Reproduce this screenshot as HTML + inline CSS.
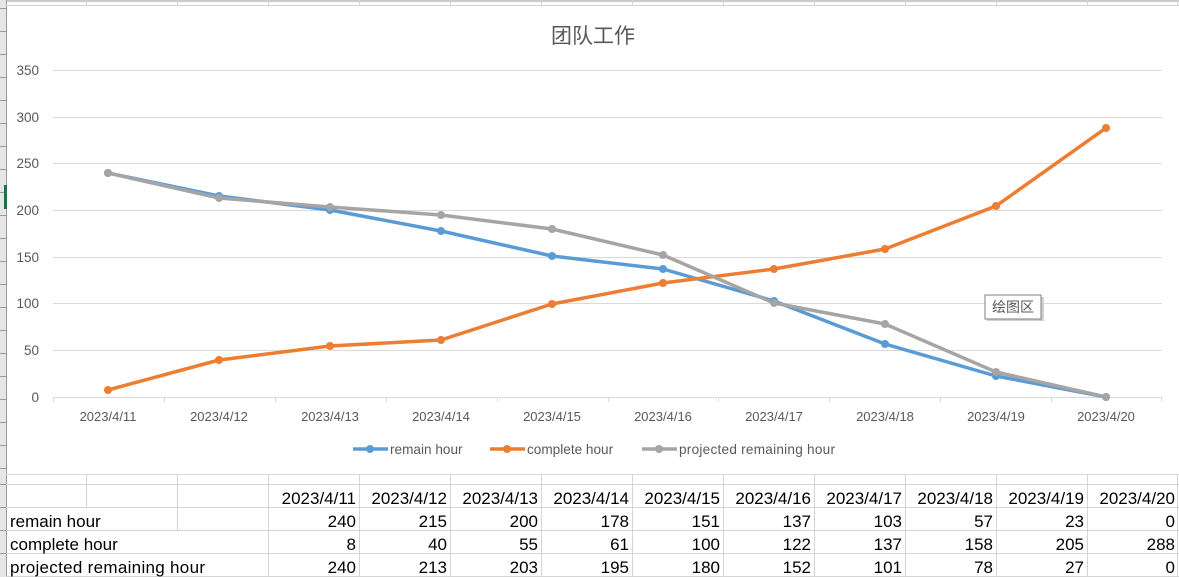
<!DOCTYPE html>
<html><head><meta charset="utf-8"><style>
html,body{margin:0;padding:0;background:#fff;}
svg{display:block;}
text{font-family:"Liberation Sans","Noto Sans CJK SC",sans-serif;}
</style></head><body>
<svg width="1179" height="577" viewBox="0 0 1179 577" xmlns="http://www.w3.org/2000/svg">
<rect width="1179" height="577" fill="#fff"/>
<rect x="0" y="0" width="6" height="577" fill="#e6e6e6"/>
<line x1="6.5" y1="0" x2="6.5" y2="577" stroke="#9a9a9a"/>
<g stroke="#9a9a9a" stroke-width="1">
<line x1="0" y1="8.5" x2="6" y2="8.5"/><line x1="0" y1="31.5" x2="6" y2="31.5"/><line x1="0" y1="54.5" x2="6" y2="54.5"/><line x1="0" y1="77.5" x2="6" y2="77.5"/><line x1="0" y1="100.5" x2="6" y2="100.5"/><line x1="0" y1="123.5" x2="6" y2="123.5"/><line x1="0" y1="146.5" x2="6" y2="146.5"/><line x1="0" y1="169.5" x2="6" y2="169.5"/><line x1="0" y1="192.5" x2="6" y2="192.5"/><line x1="0" y1="215.5" x2="6" y2="215.5"/><line x1="0" y1="238.5" x2="6" y2="238.5"/><line x1="0" y1="261.5" x2="6" y2="261.5"/><line x1="0" y1="284.5" x2="6" y2="284.5"/><line x1="0" y1="307.5" x2="6" y2="307.5"/><line x1="0" y1="330.5" x2="6" y2="330.5"/><line x1="0" y1="353.5" x2="6" y2="353.5"/><line x1="0" y1="376.5" x2="6" y2="376.5"/><line x1="0" y1="399.5" x2="6" y2="399.5"/><line x1="0" y1="422.5" x2="6" y2="422.5"/><line x1="0" y1="445.5" x2="6" y2="445.5"/><line x1="0" y1="468.5" x2="6" y2="468.5"/><line x1="0" y1="484.5" x2="6" y2="484.5"/><line x1="0" y1="507.5" x2="6" y2="507.5"/><line x1="0" y1="530.5" x2="6" y2="530.5"/><line x1="0" y1="553.5" x2="6" y2="553.5"/>
</g>
<rect x="4" y="185" width="3" height="24" fill="#217346"/>
<line x1="6" y1="1" x2="1179" y2="1" stroke="#9a9a9a"/>
<line x1="6" y1="5.5" x2="1179" y2="5.5" stroke="#d4d4d4"/>
<g stroke="#d4d4d4">
<line x1="86.5" y1="0" x2="86.5" y2="6"/><line x1="177.5" y1="0" x2="177.5" y2="6"/><line x1="268.5" y1="0" x2="268.5" y2="6"/><line x1="359.5" y1="0" x2="359.5" y2="6"/><line x1="450.5" y1="0" x2="450.5" y2="6"/><line x1="541.5" y1="0" x2="541.5" y2="6"/><line x1="632.5" y1="0" x2="632.5" y2="6"/><line x1="723.5" y1="0" x2="723.5" y2="6"/><line x1="814.5" y1="0" x2="814.5" y2="6"/><line x1="905.5" y1="0" x2="905.5" y2="6"/><line x1="996.5" y1="0" x2="996.5" y2="6"/><line x1="1087.5" y1="0" x2="1087.5" y2="6"/><line x1="1177.5" y1="0" x2="1177.5" y2="6"/>
</g>
<text x="593" y="43" font-size="21" fill="#595959" text-anchor="middle">团队工作</text>
<g stroke="#d9d9d9" stroke-width="1">
<line x1="53" y1="70.5" x2="1162" y2="70.5"/><line x1="53" y1="117.5" x2="1162" y2="117.5"/><line x1="53" y1="163.5" x2="1162" y2="163.5"/><line x1="53" y1="210.5" x2="1162" y2="210.5"/><line x1="53" y1="257.5" x2="1162" y2="257.5"/><line x1="53" y1="303.5" x2="1162" y2="303.5"/><line x1="53" y1="350.5" x2="1162" y2="350.5"/><line x1="53" y1="397.5" x2="1162" y2="397.5"/>
<line x1="53.5" y1="397" x2="53.5" y2="402"/><line x1="164.5" y1="397" x2="164.5" y2="402"/><line x1="275.5" y1="397" x2="275.5" y2="402"/><line x1="386.5" y1="397" x2="386.5" y2="402"/><line x1="497.5" y1="397" x2="497.5" y2="402"/><line x1="608.5" y1="397" x2="608.5" y2="402"/><line x1="718.5" y1="397" x2="718.5" y2="402"/><line x1="829.5" y1="397" x2="829.5" y2="402"/><line x1="940.5" y1="397" x2="940.5" y2="402"/><line x1="1051.5" y1="397" x2="1051.5" y2="402"/><line x1="1161.5" y1="397" x2="1161.5" y2="402"/>
</g>
<g font-size="13.5" fill="#595959" text-anchor="end">
<text x="39" y="75">350</text><text x="39" y="122">300</text><text x="39" y="168">250</text><text x="39" y="215">200</text><text x="39" y="262">150</text><text x="39" y="308">100</text><text x="39" y="355">50</text><text x="39" y="402">0</text>
</g>
<g font-size="13" fill="#595959" text-anchor="middle">
<text x="108" y="421">2023/4/11</text><text x="219" y="421">2023/4/12</text><text x="330" y="421">2023/4/13</text><text x="441" y="421">2023/4/14</text><text x="552" y="421">2023/4/15</text><text x="663" y="421">2023/4/16</text><text x="774" y="421">2023/4/17</text><text x="885" y="421">2023/4/18</text><text x="996" y="421">2023/4/19</text><text x="1106" y="421">2023/4/20</text>
</g>
<g fill="none" stroke-width="3.5" stroke-linejoin="round" stroke-linecap="round">
<polyline stroke="#5b9bd5" points="108,173 219,196 330,210 441,231 552,256 663,269 774,301 885,344 996,376 1106,397"/>
<polyline stroke="#ed7d31" points="108,390 219,360 330,346 441,340 552,304 663,283 774,269 885,249 996,206 1106,128"/>
<polyline stroke="#a5a5a5" points="108,173 219,198 330,207 441,215 552,229 663,255 774,303 885,324 996,372 1106,397"/>
</g>
<g fill="#5b9bd5"><circle cx="108" cy="173" r="4"/><circle cx="219" cy="196" r="4"/><circle cx="330" cy="210" r="4"/><circle cx="441" cy="231" r="4"/><circle cx="552" cy="256" r="4"/><circle cx="663" cy="269" r="4"/><circle cx="774" cy="301" r="4"/><circle cx="885" cy="344" r="4"/><circle cx="996" cy="376" r="4"/><circle cx="1106" cy="397" r="4"/></g>
<g fill="#ed7d31"><circle cx="108" cy="390" r="4"/><circle cx="219" cy="360" r="4"/><circle cx="330" cy="346" r="4"/><circle cx="441" cy="340" r="4"/><circle cx="552" cy="304" r="4"/><circle cx="663" cy="283" r="4"/><circle cx="774" cy="269" r="4"/><circle cx="885" cy="249" r="4"/><circle cx="996" cy="206" r="4"/><circle cx="1106" cy="128" r="4"/></g>
<g fill="#a5a5a5"><circle cx="108" cy="173" r="4"/><circle cx="219" cy="198" r="4"/><circle cx="330" cy="207" r="4"/><circle cx="441" cy="215" r="4"/><circle cx="552" cy="229" r="4"/><circle cx="663" cy="255" r="4"/><circle cx="774" cy="303" r="4"/><circle cx="885" cy="324" r="4"/><circle cx="996" cy="372" r="4"/><circle cx="1106" cy="397" r="4"/></g>
<rect x="987" y="297" width="57" height="24" fill="#d0d0d0"/>
<rect x="985" y="295" width="56" height="24" fill="#fff" stroke="#7f7f7f"/>
<text x="1013" y="312" font-size="14" fill="#595959" text-anchor="middle">绘图区</text>
<g stroke-width="3.5">
<line x1="353" y1="449" x2="388" y2="449" stroke="#5b9bd5"/><line x1="490" y1="449" x2="525" y2="449" stroke="#ed7d31"/><line x1="642" y1="449" x2="677" y2="449" stroke="#a5a5a5"/>
</g>
<circle cx="370" cy="449" r="4" fill="#5b9bd5"/><circle cx="507" cy="449" r="4" fill="#ed7d31"/><circle cx="659" cy="449" r="4" fill="#a5a5a5"/>
<g font-size="13.6" fill="#595959">
<text x="390" y="454">remain hour</text><text x="527" y="454">complete hour</text><text x="679" y="454" textLength="156">projected remaining hour</text>
</g>
<line x1="6" y1="474.5" x2="1179" y2="474.5" stroke="#d9d9d9"/>
<g stroke="#d4d4d4" stroke-width="1">
<line x1="6" y1="484.5" x2="1179" y2="484.5"/><line x1="6" y1="507.5" x2="1179" y2="507.5"/><line x1="6" y1="530.5" x2="1179" y2="530.5"/><line x1="6" y1="553.5" x2="1179" y2="553.5"/><line x1="6" y1="576.5" x2="1179" y2="576.5"/>
<line x1="86.5" y1="474" x2="86.5" y2="507"/><line x1="177.5" y1="474" x2="177.5" y2="530"/>
<line x1="268.5" y1="474" x2="268.5" y2="577"/><line x1="359.5" y1="474" x2="359.5" y2="577"/><line x1="450.5" y1="474" x2="450.5" y2="577"/><line x1="541.5" y1="474" x2="541.5" y2="577"/><line x1="632.5" y1="474" x2="632.5" y2="577"/><line x1="723.5" y1="474" x2="723.5" y2="577"/><line x1="814.5" y1="474" x2="814.5" y2="577"/><line x1="905.5" y1="474" x2="905.5" y2="577"/><line x1="996.5" y1="474" x2="996.5" y2="577"/><line x1="1087.5" y1="474" x2="1087.5" y2="577"/><line x1="1177.5" y1="474" x2="1177.5" y2="577"/>
</g>
<g font-size="17" fill="#000">
<text x="10" y="527">remain hour</text><text x="10" y="550">complete hour</text><text x="10" y="573" textLength="195">projected remaining hour</text>
</g>
<g font-size="17" fill="#000" text-anchor="end">
<text x="356" y="504">2023/4/11</text><text x="447" y="504">2023/4/12</text><text x="538" y="504">2023/4/13</text><text x="629" y="504">2023/4/14</text><text x="720" y="504">2023/4/15</text><text x="811" y="504">2023/4/16</text><text x="902" y="504">2023/4/17</text><text x="993" y="504">2023/4/18</text><text x="1084" y="504">2023/4/19</text><text x="1175" y="504">2023/4/20</text>
<text x="356" y="527">240</text><text x="447" y="527">215</text><text x="538" y="527">200</text><text x="629" y="527">178</text><text x="720" y="527">151</text><text x="811" y="527">137</text><text x="902" y="527">103</text><text x="993" y="527">57</text><text x="1084" y="527">23</text><text x="1175" y="527">0</text>
<text x="356" y="550">8</text><text x="447" y="550">40</text><text x="538" y="550">55</text><text x="629" y="550">61</text><text x="720" y="550">100</text><text x="811" y="550">122</text><text x="902" y="550">137</text><text x="993" y="550">158</text><text x="1084" y="550">205</text><text x="1175" y="550">288</text>
<text x="356" y="573">240</text><text x="447" y="573">213</text><text x="538" y="573">203</text><text x="629" y="573">195</text><text x="720" y="573">180</text><text x="811" y="573">152</text><text x="902" y="573">101</text><text x="993" y="573">78</text><text x="1084" y="573">27</text><text x="1175" y="573">0</text>
</g>
</svg>
</body></html>
